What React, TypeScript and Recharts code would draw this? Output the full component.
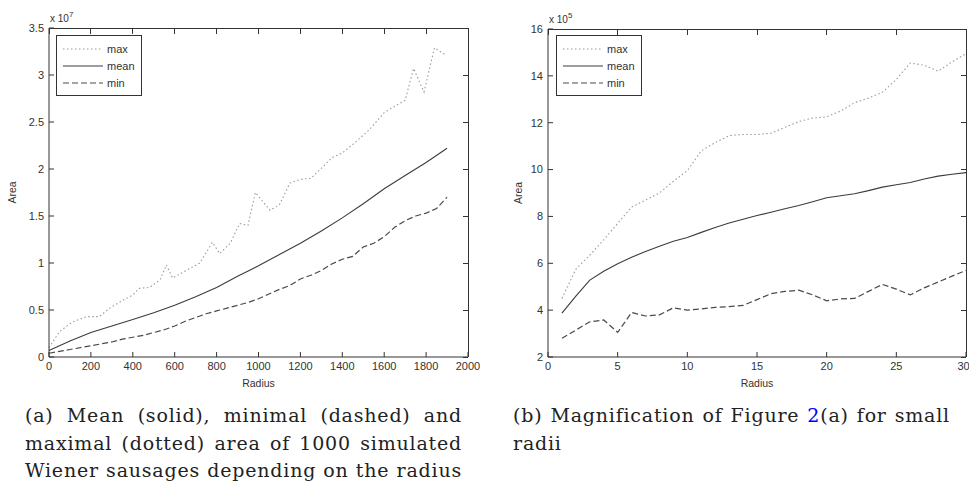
import React from 'react';
import { LineChart, Line, XAxis, YAxis, Legend } from 'recharts';

// (a) whole range, area in units of 1e7
const maxRadiusA = [0, 50, 110, 180, 240, 290, 350, 400, 430, 480, 530, 560, 590, 630, 720, 780, 815, 865, 910, 950, 985, 1055, 1100, 1150, 1200, 1250, 1310, 1350, 1400, 1460, 1530, 1600, 1660, 1700, 1740, 1790, 1840, 1895];
const maxAreaA = [0.1, 0.27, 0.37, 0.43, 0.43, 0.52, 0.6, 0.66, 0.73, 0.74, 0.82, 0.98, 0.84, 0.89, 1.0, 1.22, 1.1, 1.21, 1.42, 1.4, 1.75, 1.56, 1.62, 1.85, 1.89, 1.9, 2.03, 2.12, 2.17, 2.28, 2.42, 2.6, 2.68, 2.73, 3.07, 2.82, 3.29, 3.21];

const meanRadiusA = [0, 100, 200, 300, 400, 500, 600, 700, 800, 900, 1000, 1100, 1200, 1300, 1400, 1500, 1600, 1700, 1800, 1900];
const meanAreaA = [0.07, 0.17, 0.26, 0.33, 0.4, 0.47, 0.55, 0.64, 0.74, 0.86, 0.97, 1.09, 1.21, 1.34, 1.48, 1.63, 1.79, 1.93, 2.07, 2.22];

const minRadiusA = [0, 50, 100, 150, 200, 250, 300, 350, 400, 450, 500, 550, 600, 650, 700, 750, 800, 850, 900, 950, 1000, 1050, 1100, 1150, 1200, 1250, 1300, 1350, 1400, 1450, 1500, 1550, 1600, 1650, 1700, 1750, 1800, 1850, 1900];
const minAreaA = [0.04, 0.06, 0.08, 0.1, 0.12, 0.14, 0.16, 0.19, 0.21, 0.23, 0.26, 0.29, 0.33, 0.38, 0.42, 0.46, 0.49, 0.52, 0.55, 0.58, 0.62, 0.67, 0.72, 0.76, 0.83, 0.87, 0.92, 0.99, 1.04, 1.07, 1.17, 1.21, 1.28, 1.38, 1.45, 1.5, 1.53, 1.58, 1.7];

// (b) small radii, area in units of 1e5
const radiusB = [1, 2, 3, 4, 5, 6, 7, 8, 9, 10, 11, 12, 13, 14, 15, 16, 17, 18, 19, 20, 21, 22, 23, 24, 25, 26, 27, 28, 29, 30];
const maxAreaB = [4.5, 5.75, 6.35, 7.0, 7.7, 8.4, 8.7, 9.0, 9.5, 9.95, 10.8, 11.15, 11.45, 11.5, 11.5, 11.55, 11.8, 12.05, 12.2, 12.25, 12.5, 12.85, 13.05, 13.3, 13.85, 14.55, 14.45, 14.2, 14.6, 14.95];
const meanAreaB = [3.87, 4.6, 5.28, 5.66, 5.98, 6.26, 6.5, 6.73, 6.94, 7.1, 7.32, 7.53, 7.72, 7.88, 8.04, 8.18, 8.33, 8.47, 8.63, 8.8, 8.88, 8.97, 9.1, 9.25, 9.35, 9.45, 9.6, 9.72, 9.8, 9.87];
const minAreaB = [2.8, 3.15, 3.5, 3.58, 3.05, 3.9, 3.75, 3.8, 4.1, 4.0, 4.05, 4.12, 4.15, 4.2, 4.45, 4.7, 4.8, 4.85, 4.65, 4.4, 4.48, 4.5, 4.8, 5.1, 4.9, 4.65, 4.95, 5.2, 5.45, 5.7];

const xTicksA = [0, 200, 400, 600, 800, 1000, 1200, 1400, 1600, 1800, 2000];
const yTicksA = [0, 0.5, 1, 1.5, 2, 2.5, 3, 3.5];
const xTicksB = [0, 5, 10, 15, 20, 25, 30];
const yTicksB = [2, 4, 6, 8, 10, 12, 14, 16];

type Pt = { radius: number; area: number };
const zip = (xs: number[], ys: number[]): Pt[] => xs.map((r, i) => ({ radius: r, area: ys[i] }));

const seriesStyle: Record<string, { stroke: string; dash?: string; width: number }> = {
  max: { stroke: '#9a9a9a', dash: '1.5 2.5', width: 1.1 },
  mean: { stroke: '#3c3c3c', width: 1.1 },
  min: { stroke: '#4a4a4a', dash: '6 3', width: 1.2 },
};

const CHART_H = 395;
const BOTTOM = 38; // x axis band (30) + bottom margin (8)
const TICK_LEN = 5;
const axisColor = '#333';
const sans = 'Liberation Sans, Arial, sans-serif';
const tickFont = { fill: '#333', fontSize: 11, fontFamily: sans };

const renderLegend = (props: any) => (
  <div style={{ border: '1px solid #333', background: '#fff', padding: '4px 6px', fontFamily: sans, fontSize: 11, color: '#333' }}>
    {(props.payload || [])
      .filter((entry: any) => seriesStyle[entry.value])
      .map((entry: any) => {
        const s = seriesStyle[entry.value];
        return (
          <div key={entry.value} style={{ display: 'flex', alignItems: 'center', height: 17 }}>
            <svg width={40} height={10} style={{ marginRight: 4 }}>
              <line x1={0} y1={5} x2={40} y2={5} stroke={s.stroke} strokeWidth={s.width} strokeDasharray={s.dash} />
            </svg>
            <span>{entry.value}</span>
          </div>
        );
      })}
  </div>
);

interface PanelProps {
  left: number;
  width: number;
  yAxisWidth: number;
  rightMargin: number;
  top: number;
  areaLabelGap: number;
  exponent: string;
  xDomain: [number, number];
  yDomain: [number, number];
  xTicks: number[];
  yTicks: number[];
  maxData: Pt[];
  meanData: Pt[];
  minData: Pt[];
  legendLeft: number;
}

const Panel: React.FC<PanelProps> = (p) => {
  const [x0, x1] = p.xDomain;
  const [y0, y1] = p.yDomain;
  const plotW = p.width - p.yAxisWidth - p.rightMargin;
  const plotH = CHART_H - p.top - BOTTOM;

  return (
    <div style={{ position: 'absolute', left: p.left, top: 0, width: p.width, height: CHART_H }}>
      <LineChart width={p.width} height={CHART_H} margin={{ top: p.top, right: p.rightMargin, left: 0, bottom: 8 }}>
        <XAxis
          dataKey="radius"
          type="number"
          domain={p.xDomain}
          ticks={p.xTicks}
          height={30}
          tickSize={-TICK_LEN}
          tickMargin={10}
          stroke={axisColor}
          tick={tickFont}
          label={{
            content: ({ viewBox }: any) => (
              <text x={viewBox.x + viewBox.width / 2} y={viewBox.y + 26} textAnchor="middle" dominantBaseline="central" fontSize={10.5} fill="#333" fontFamily={sans}>Radius</text>
            ),
          }}
        />
        <YAxis
          type="number"
          domain={p.yDomain}
          ticks={p.yTicks}
          width={p.yAxisWidth}
          tickSize={-TICK_LEN}
          tickMargin={10}
          stroke={axisColor}
          tick={tickFont}
          label={{
            content: ({ viewBox }: any) => {
              const left = viewBox.x + viewBox.width;
              const cx = left - p.areaLabelGap;
              const cy = viewBox.y + viewBox.height / 2;
              return (
                <g>
                  <text x={cx} y={cy} transform={`rotate(-90, ${cx}, ${cy})`} textAnchor="middle" dominantBaseline="central" fontSize={10.5} fill="#333" fontFamily={sans}>Area</text>
                  <text x={left + 1} y={viewBox.y - 6} fontSize={10} fill="#333" fontFamily={sans}>
                    x 10<tspan dy={-5} fontSize={8}>{p.exponent}</tspan>
                  </text>
                </g>
              );
            },
          }}
        />
        <Legend
          layout="vertical"
          align="center"
          verticalAlign="middle"
          content={renderLegend}
          wrapperStyle={{ left: p.legendLeft, top: 35, width: 'auto', height: 'auto' }}
        />
        {(['max', 'mean', 'min'] as const).map((key) => {
          const s = seriesStyle[key];
          const data = key === 'max' ? p.maxData : key === 'mean' ? p.meanData : p.minData;
          return (
            <Line
              key={key}
              name={key}
              data={data}
              dataKey="area"
              type="linear"
              stroke={s.stroke}
              strokeWidth={s.width}
              strokeDasharray={s.dash}
              dot={false}
              activeDot={false}
              isAnimationActive={false}
            />
          );
        })}
      </LineChart>
      {/* top and right edges of the axes box with inward ticks */}
      <div
        style={{
          position: 'absolute',
          left: p.yAxisWidth,
          top: p.top - 0.5,
          width: plotW + 0.5,
          height: plotH + 0.5,
          boxSizing: 'border-box',
          borderTop: `1px solid ${axisColor}`,
          borderRight: `1px solid ${axisColor}`,
          pointerEvents: 'none',
        }}
      >
        {p.xTicks.map((t) => (
          <div
            key={`tt${t}`}
            style={{ position: 'absolute', left: ((t - x0) / (x1 - x0)) * plotW - 0.5, top: 0, width: 1, height: TICK_LEN, background: axisColor }}
          />
        ))}
        {p.yTicks.map((t) => (
          <div
            key={`rt${t}`}
            style={{ position: 'absolute', right: 0, top: plotH - ((t - y0) / (y1 - y0)) * plotH - 1, width: TICK_LEN, height: 1, background: axisColor }}
          />
        ))}
      </div>
    </div>
  );
};

const captionFont: React.CSSProperties = {
  fontFamily: '"DejaVu Serif", "Liberation Serif", serif',
  fontSize: 19,
  lineHeight: '27.5px',
  letterSpacing: 0.8,
  color: '#222',
};

const CapLine: React.FC<{ children: React.ReactNode; justify?: boolean }> = ({ children, justify = true }) => (
  <div style={{ textAlign: justify ? 'justify' : 'left', textAlignLast: justify ? 'justify' : 'left' }}>{children}</div>
);

export default function App() {
  return (
    <div style={{ position: 'absolute', left: 0, top: 0, width: 969, height: 489, overflow: 'hidden', background: '#fff' }}>
      <Panel
        left={0}
        width={480}
        yAxisWidth={49}
        rightMargin={12}
        top={28}
        areaLabelGap={37}
        exponent="7"
        xDomain={[0, 2000]}
        yDomain={[0, 3.5]}
        xTicks={xTicksA}
        yTicks={yTicksA}
        maxData={zip(maxRadiusA, maxAreaA)}
        meanData={zip(meanRadiusA, meanAreaA)}
        minData={zip(minRadiusA, minAreaA)}
        legendLeft={56}
      />
      <Panel
        left={490}
        width={479}
        yAxisWidth={58}
        rightMargin={3}
        top={29}
        areaLabelGap={30}
        exponent="5"
        xDomain={[0, 30]}
        yDomain={[2, 16]}
        xTicks={xTicksB}
        yTicks={yTicksB}
        maxData={zip(radiusB, maxAreaB)}
        meanData={zip(radiusB, meanAreaB)}
        minData={zip(radiusB, minAreaB)}
        legendLeft={66}
      />
      <div style={{ ...captionFont, position: 'absolute', left: 25, top: 402, width: 437 }}>
        <CapLine>(a) Mean (solid), minimal (dashed) and</CapLine>
        <CapLine>maximal (dotted) area of 1000 simulated</CapLine>
        <CapLine>Wiener sausages depending on the radius</CapLine>
      </div>
      <div style={{ ...captionFont, position: 'absolute', left: 513, top: 402, width: 437 }}>
        <CapLine>(b) Magnification of Figure <span style={{ color: '#0000ff' }}>2</span>(a) for small</CapLine>
        <CapLine justify={false}>radii</CapLine>
      </div>
    </div>
  );
}
